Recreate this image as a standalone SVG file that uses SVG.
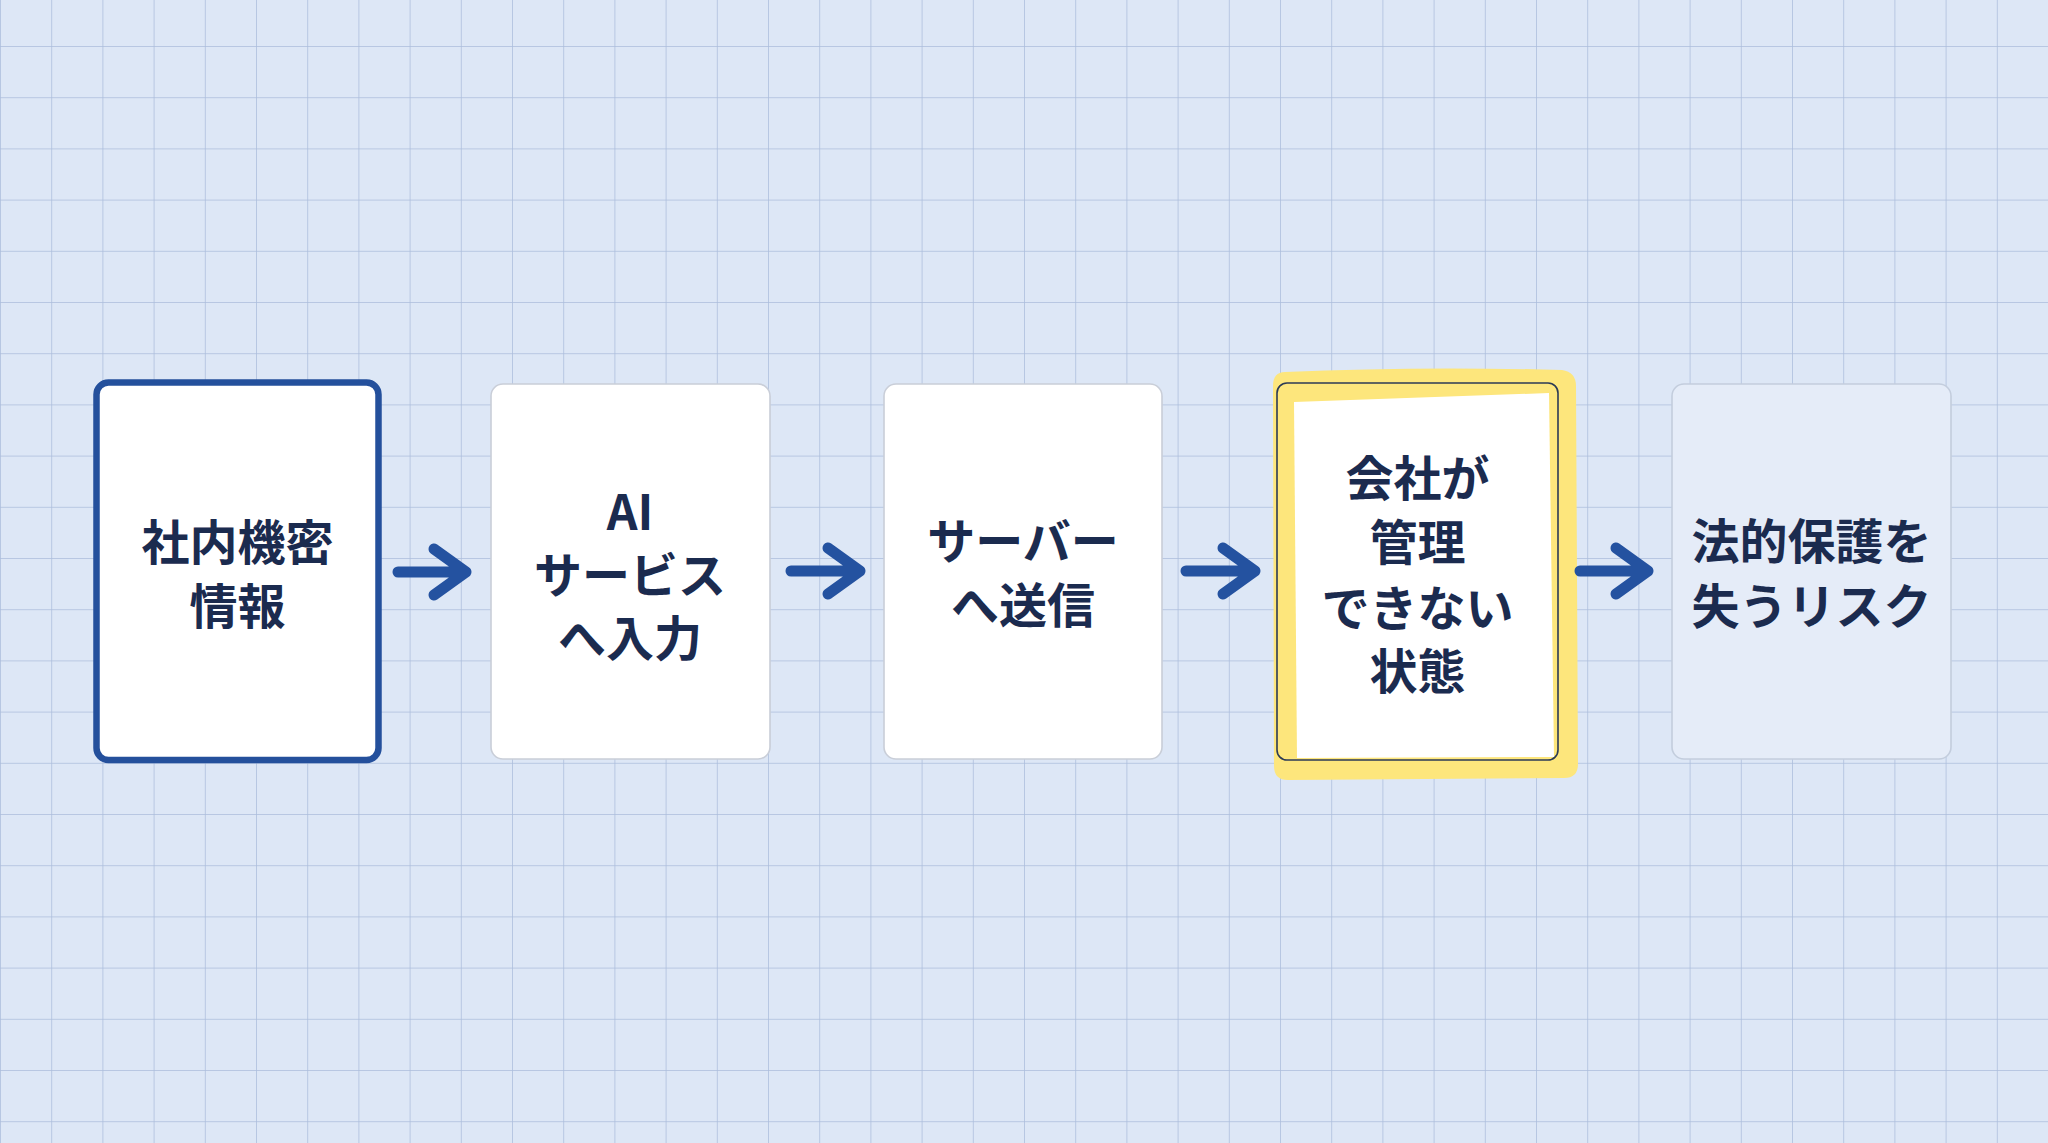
<svg xmlns="http://www.w3.org/2000/svg" width="2048" height="1143" viewBox="0 0 2048 1143">
<style>
.t{font-family:"Noto Sans CJK JP","Noto Sans",sans-serif;font-weight:700;font-size:48px;fill:#1b2b4f;text-anchor:middle;dominant-baseline:central}
.card{fill:#ffffff;stroke:#c9ced8;stroke-width:1.6}
.arr{fill:none;stroke:#2452a0;stroke-width:11;stroke-linecap:round;stroke-linejoin:round}
</style>
<defs>
<pattern id="grid" x="0" y="46" width="51.2" height="51.2" patternUnits="userSpaceOnUse">
<path d="M0 0H51.2M0 0V51.2" fill="none" stroke="#abbddc" stroke-width="1.5"/>
</pattern>
</defs>
<rect width="2048" height="1143" fill="#dde7f6"/>
<rect width="2048" height="1143" fill="url(#grid)"/>

<g id="node1">
<rect x="96.5" y="382.5" width="282" height="377.5" rx="12" fill="#ffffff" stroke="#24509c" stroke-width="6.5"/>
<text class="t"><tspan x="237.5" y="539">社内機密</tspan><tspan x="237.5" y="603">情報</tspan></text>
</g>

<g id="node2">
<rect class="card" x="491" y="384" width="279" height="375" rx="12"/>
<text class="t"><tspan x="630" y="509">AI</tspan><tspan x="630" y="572">サービス</tspan><tspan x="630" y="635">へ入力</tspan></text>
</g>

<g id="node3">
<rect class="card" x="884" y="384" width="278" height="375" rx="12"/>
<text class="t"><tspan x="1023" y="538">サーバー</tspan><tspan x="1023" y="602">へ送信</tspan></text>
</g>

<g id="node4">
<path d="M1285 372 Q1420 366 1562 370 Q1576 372 1576 386 L1578 764 Q1578 778 1564 778 L1288 780 Q1274 780 1274 766 L1273 386 Q1273 372 1285 372 Z" fill="#fde67c"/>
<rect x="1277" y="383" width="281" height="377" rx="10" fill="none" stroke="#2b3a55" stroke-width="1.6"/>
<path d="M1294 402 L1549 393 L1554 757 L1297 758 Z" fill="#ffffff"/>
<text class="t"><tspan x="1417.5" y="475">会社が</tspan><tspan x="1417.5" y="539">管理</tspan><tspan x="1417.5" y="605">できない</tspan><tspan x="1417.5" y="668">状態</tspan></text>
</g>

<g id="node5">
<rect x="1672" y="384" width="279" height="375" rx="12" fill="#e5ecf8" stroke="#c3cddd" stroke-width="1.6"/>
<text class="t"><tspan x="1811.5" y="538">法的保護を</tspan><tspan x="1811.5" y="603">失うリスク</tspan></text>
</g>

<g id="connectors">
<path class="arr" d="M398 572H466M434 549L466 572L434 595"/>
<path class="arr" d="M791 571H860M828 548L860 571L828 594"/>
<path class="arr" d="M1186 571H1255M1223 548L1255 571L1223 594"/>
<path class="arr" d="M1580 571H1648M1616 548L1648 571L1616 594"/>
</g>
</svg>
